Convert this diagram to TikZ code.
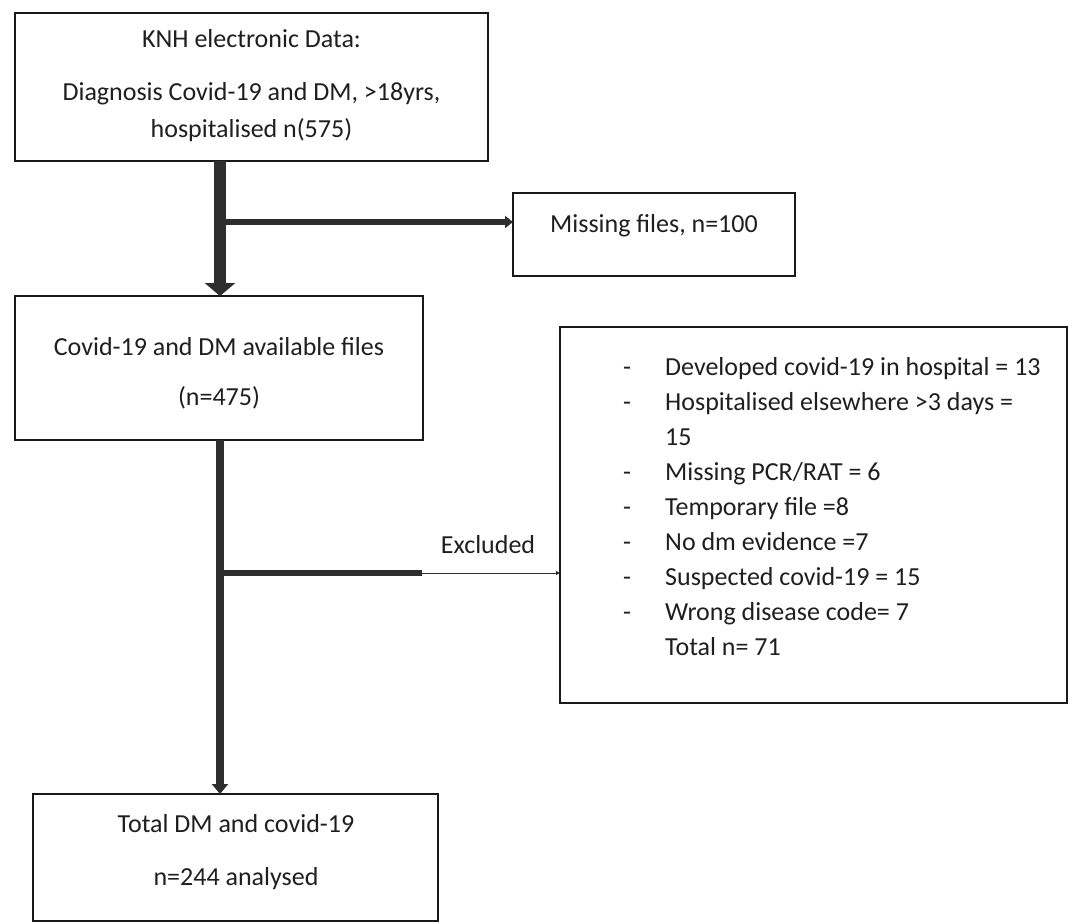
\documentclass[tikz,border=0pt]{standalone}
\usepackage{fontspec}
\setmainfont{Carlito}
\usetikzlibrary{arrows.meta}
\definecolor{arrowgray}{HTML}{2E2E2E}
\begin{document}
\begin{tikzpicture}[x=1pt,y=-1pt,
  box/.style={draw=black!90,line width=2.4pt,rectangle,inner sep=0pt,outer sep=0pt,fill=none},
  txt/.style={font=\fontsize{26}{35}\selectfont,anchor=base,inner sep=0pt,text=black!88},
  ltxt/.style={font=\fontsize{26}{35}\selectfont,anchor=base west,inner sep=0pt,text=black!88},
  bulletmark/.style={font=\fontsize{26}{35}\selectfont,anchor=base,inner sep=0pt,text=black!88},
  thickarrow/.style={draw=arrowgray,line width=12pt,-{Triangle[width=30pt,length=13pt]}},
  midarrow/.style={draw=arrowgray,line width=8pt,-{Triangle[width=16pt,length=10pt]}},
  brancharrow/.style={draw=arrowgray,line width=6pt,-{Triangle[width=12pt,length=8pt]}},
  branchline/.style={draw=arrowgray,line width=6pt},
  thinarrow/.style={draw=arrowgray,line width=1pt,-{Triangle[width=4pt,length=4pt]}}
]
\useasboundingbox (0,0) rectangle (1080,924);
\fill[white] (0,0) rectangle (1080,924);

% boxes
\node[box,minimum width=473pt,minimum height=148pt] (box1) at (251.5,87) {};
\node[box,minimum width=282pt,minimum height=83pt] (miss) at (654,234.5) {};
\node[box,minimum width=408pt,minimum height=144pt] (box2) at (219,368) {};
\node[box,minimum width=507pt,minimum height=376pt] (excl) at (813.5,515) {};
\node[box,minimum width=405pt,minimum height=127pt] (box3) at (235.5,857.5) {};

% texts
\node[txt] (t1a) at (251.5,47) {KNH electronic Data:};
\node[txt] (t1b) at (251.5,100) {Diagnosis Covid-19 and DM, >18yrs,};
\node[txt] (t1c) at (251.5,137) {hospitalised n(575)};
\node[txt] (tmiss) at (654,232) {Missing files, n=100};
\node[txt] (t2a) at (219,355) {Covid-19 and DM available files};
\node[txt] (t2b) at (219,405) {(n=475)};
\node[txt] (t3a) at (236,832) {Total DM and covid-19};
\node[txt] (t3b) at (236,885) {n=244 analysed};
\node[txt] (texcl) at (488,553) {Excluded};

% exclusion list
\node[bulletmark] (d1) at (627,375) {-};
\node[ltxt] (e1) at (665,375) {Developed covid-19 in hospital = 13};
\node[bulletmark] (d2) at (627,410) {-};
\node[ltxt] (e2) at (665,410) {Hospitalised elsewhere >3 days =};
\node[ltxt] (e2b) at (665,445) {15};
\node[bulletmark] (d3) at (627,480) {-};
\node[ltxt] (e3) at (665,480) {Missing PCR/RAT = 6};
\node[bulletmark] (d4) at (627,515) {-};
\node[ltxt] (e4) at (665,515) {Temporary file =8};
\node[bulletmark] (d5) at (627,550) {-};
\node[ltxt] (e5) at (665,550) {No dm evidence =7};
\node[bulletmark] (d6) at (627,585) {-};
\node[ltxt] (e6) at (665,585) {Suspected covid-19 = 15};
\node[bulletmark] (d7) at (627,620) {-};
\node[ltxt] (e7) at (665,620) {Wrong disease code= 7};
\node[ltxt] (e8) at (665,655) {Total n= 71};

% connectors
\coordinate (vx) at (220,0);
\coordinate (b1) at (220,222);
\coordinate (b2) at (220,573);
\coordinate (b2mid) at (422,573);

\draw[thickarrow] (box1.south -| vx) -- (box2.north -| vx);
\draw[brancharrow] (b1) -- (b1 -| miss.west);
\draw[midarrow] (box2.south -| vx) -- (box3.north -| vx);
\draw[branchline] (b2) -- (b2mid);
\draw[thinarrow] (b2mid) -- (b2 -| excl.west);
\end{tikzpicture}
\end{document}
